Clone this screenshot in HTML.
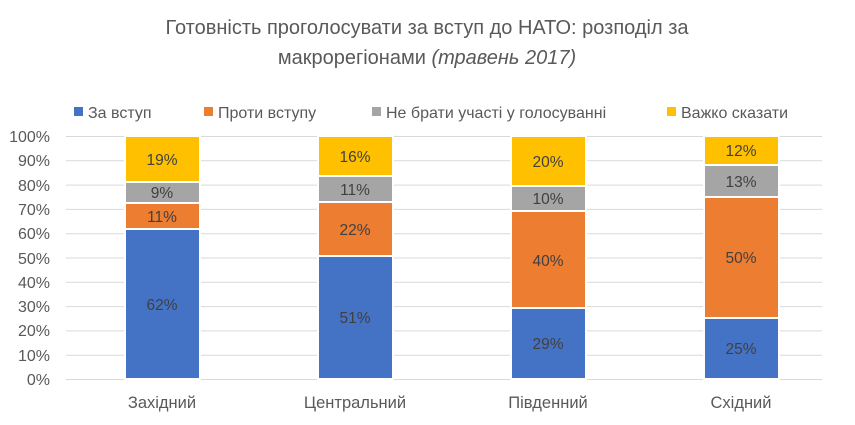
<!DOCTYPE html>
<html><head><meta charset="utf-8"><style>
body{margin:0;background:#fff;}
text{font-family:"Liberation Sans","DejaVu Sans",sans-serif;}
</style></head><body>
<svg width="855" height="420" xmlns="http://www.w3.org/2000/svg">
<rect width="855" height="420" fill="#fff"/>
<text x="427" y="34" text-anchor="middle" font-size="20" fill="#595959">Готовність проголосувати за вступ до НАТО: розподіл за</text>
<text x="427" y="64" text-anchor="middle" font-size="20" fill="#595959">макрорегіонами <tspan font-style="italic">(травень 2017)</tspan></text>
<g font-size="16" fill="#595959">
<rect x="74" y="107" width="9" height="9" fill="#4472C4"/><text x="88" y="118">За вступ</text>
<rect x="204" y="107" width="9" height="9" fill="#ED7D31"/><text x="218" y="118">Проти вступу</text>
<rect x="372" y="107" width="9" height="9" fill="#A5A5A5"/><text x="386" y="118">Не брати участі у голосуванні</text>
<rect x="667" y="107" width="9" height="9" fill="#FFC000"/><text x="681" y="118">Важко сказати</text>
</g>
<g stroke="#d9d9d9" stroke-width="1">
<line x1="66" x2="822" y1="136.5" y2="136.5"/><line x1="66" x2="822" y1="160.8" y2="160.8"/>
<line x1="66" x2="822" y1="185.1" y2="185.1"/><line x1="66" x2="822" y1="209.4" y2="209.4"/>
<line x1="66" x2="822" y1="233.7" y2="233.7"/><line x1="66" x2="822" y1="258" y2="258"/>
<line x1="66" x2="822" y1="282.3" y2="282.3"/><line x1="66" x2="822" y1="306.6" y2="306.6"/>
<line x1="66" x2="822" y1="330.9" y2="330.9"/><line x1="66" x2="822" y1="355.2" y2="355.2"/>
<line x1="66" x2="822" y1="379.5" y2="379.5"/>
</g>
<g font-size="16" fill="#595959" text-anchor="end">
<text x="50" y="142">100%</text><text x="50" y="166">90%</text><text x="50" y="191">80%</text>
<text x="50" y="215">70%</text><text x="50" y="239">60%</text><text x="50" y="264">50%</text>
<text x="50" y="288">40%</text><text x="50" y="312">30%</text><text x="50" y="336">20%</text>
<text x="50" y="361">10%</text><text x="50" y="385">0%</text>
</g>
<g stroke="#fff" stroke-width="2">
<rect x="125" y="229" width="75" height="150" fill="#4472C4"/>
<rect x="125" y="203" width="75" height="26" fill="#ED7D31"/>
<rect x="125" y="182" width="75" height="21" fill="#A5A5A5"/>
<rect x="125" y="136" width="75" height="46" fill="#FFC000"/>
<rect x="318" y="256" width="75" height="123" fill="#4472C4"/>
<rect x="318" y="202" width="75" height="54" fill="#ED7D31"/>
<rect x="318" y="176" width="75" height="26" fill="#A5A5A5"/>
<rect x="318" y="136" width="75" height="40" fill="#FFC000"/>
<rect x="511" y="308" width="75" height="71" fill="#4472C4"/>
<rect x="511" y="211" width="75" height="97" fill="#ED7D31"/>
<rect x="511" y="186" width="75" height="25" fill="#A5A5A5"/>
<rect x="511" y="136" width="75" height="50" fill="#FFC000"/>
<rect x="704" y="318" width="75" height="61" fill="#4472C4"/>
<rect x="704" y="197" width="75" height="121" fill="#ED7D31"/>
<rect x="704" y="165" width="75" height="32" fill="#A5A5A5"/>
<rect x="704" y="136" width="75" height="29" fill="#FFC000"/>
</g>
<g font-size="15.5" fill="#404040" text-anchor="middle">
<text x="162" y="310">62%</text><text x="162" y="222">11%</text><text x="162" y="198">9%</text><text x="162" y="165">19%</text>
<text x="355" y="323">51%</text><text x="355" y="235">22%</text><text x="355" y="195">11%</text><text x="355" y="162">16%</text>
<text x="548" y="349">29%</text><text x="548" y="266">40%</text><text x="548" y="204">10%</text><text x="548" y="167">20%</text>
<text x="741" y="354">25%</text><text x="741" y="263">50%</text><text x="741" y="187">13%</text><text x="741" y="156">12%</text>
</g>
<g font-size="16.5" fill="#595959" text-anchor="middle">
<text x="162" y="408">Західний</text><text x="355" y="408">Центральний</text>
<text x="548" y="408">Південний</text><text x="741" y="408">Східний</text>
</g>
</svg>
</body></html>
